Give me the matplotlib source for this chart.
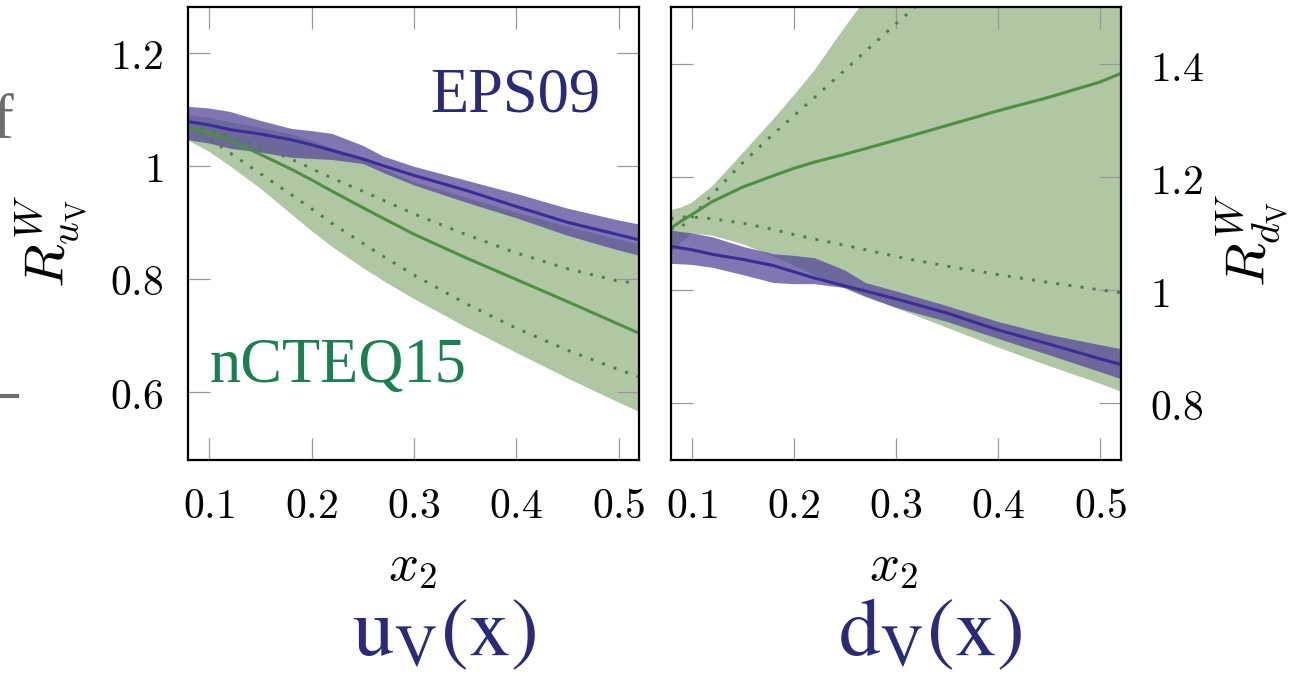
import matplotlib
matplotlib.use("Agg")
import matplotlib.pyplot as plt
from matplotlib.ticker import FixedLocator, FuncFormatter
from matplotlib.lines import Line2D

plt.rcParams['mathtext.fontset'] = 'cm'

# ---------------- data ----------------
# left panel: u_V
x_u = [0.0795, 0.10, 0.12, 0.15, 0.18, 0.20, 0.22, 0.25, 0.27, 0.30, 0.35, 0.40, 0.45, 0.50, 0.52]
eps_u_central = [1.078, 1.072, 1.064, 1.056, 1.046, 1.037, 1.027, 1.012, 1.000, 0.983, 0.957, 0.928, 0.900, 0.878, 0.869]
eps_u_upper   = [1.105, 1.102, 1.096, 1.080, 1.066, 1.062, 1.057, 1.036, 1.017, 0.999, 0.975, 0.951, 0.925, 0.904, 0.897]
eps_u_lower   = [1.046, 1.040, 1.031, 1.024, 1.015, 1.013, 1.011, 1.004, 0.988, 0.966, 0.936, 0.908, 0.877, 0.851, 0.842]
ncteq_u_central = [1.067, 1.058, 1.045, 1.020, 0.994, 0.975, 0.955, 0.926, 0.907, 0.879, 0.838, 0.799, 0.760, 0.720, 0.704]
ncteq_u_upper   = [1.090, 1.085, 1.078, 1.068, 1.056, 1.045, 1.032, 1.012, 0.995, 0.972, 0.945, 0.918, 0.893, 0.870, 0.862]
ncteq_u_lower   = [1.045, 1.025, 1.000, 0.960, 0.915, 0.885, 0.857, 0.820, 0.797, 0.765, 0.716, 0.670, 0.625, 0.582, 0.566]
ncteq_u_dot_hi  = [1.068, 1.062, 1.052, 1.033, 1.012, 0.995, 0.978, 0.955, 0.939, 0.915, 0.879, 0.846, 0.818, 0.796, 0.792]
ncteq_u_dot_lo  = [1.067, 1.048, 1.023, 0.986, 0.949, 0.924, 0.898, 0.863, 0.840, 0.807, 0.757, 0.713, 0.674, 0.640, 0.627]

# right panel: d_V
x_d = [0.0795, 0.09, 0.10, 0.12, 0.15, 0.18, 0.20, 0.22, 0.25, 0.27, 0.30, 0.35, 0.40, 0.45, 0.50, 0.52]
eps_d_central = [1.078, 1.075, 1.072, 1.064, 1.055, 1.044, 1.033, 1.022, 1.008, 0.999, 0.985, 0.960, 0.930, 0.905, 0.879, 0.869]
eps_d_upper   = [1.107, 1.104, 1.102, 1.095, 1.078, 1.065, 1.062, 1.058, 1.036, 1.014, 0.999, 0.973, 0.945, 0.922, 0.904, 0.897]
eps_d_lower   = [1.048, 1.047, 1.046, 1.041, 1.028, 1.014, 1.012, 1.012, 1.005, 0.990, 0.970, 0.945, 0.915, 0.886, 0.856, 0.844]
ncteq_d_central = [1.110, 1.123, 1.134, 1.157, 1.183, 1.203, 1.216, 1.227, 1.241, 1.251, 1.266, 1.292, 1.318, 1.342, 1.369, 1.384]
ncteq_d_upper   = [1.142, 1.147, 1.155, 1.184, 1.243, 1.303, 1.345, 1.389, 1.466, 1.515, 1.590, 1.720, 1.850, 1.970, 2.090, 2.140]
ncteq_d_lower   = [1.066, 1.085, 1.101, 1.097, 1.082, 1.060, 1.044, 1.027, 1.003, 0.988, 0.969, 0.934, 0.899, 0.866, 0.835, 0.821]
ncteq_d_dot_hi  = [1.108, 1.113, 1.128, 1.170, 1.226, 1.277, 1.309, 1.341, 1.390, 1.423, 1.472, 1.550, 1.630, 1.710, 1.790, 1.820]
ncteq_d_dot_lo  = [1.127, 1.130, 1.130, 1.127, 1.119, 1.108, 1.099, 1.091, 1.080, 1.072, 1.060, 1.043, 1.028, 1.014, 1.001, 0.996]

x_ticks = [0.1, 0.2, 0.3, 0.4, 0.5]
y_ticks_u = [0.6, 0.8, 1.0, 1.2]
y_ticks_d = [0.8, 1.0, 1.2, 1.4]

# ---------------- style ----------------
GREEN_BAND = '#b0c7a3'
GREEN_LINE = '#4f8f43'
GREEN_DOT = '#4c7e4c'
PURPLE_BAND = '#554999'
PURPLE_LINE = '#3b2d98'
NAVY_TEXT = '#2b2a78'
GREEN_TEXT = '#1a8050'
TICK_GRAY = '#999999'

W, H = 1309, 674
fig = plt.figure(figsize=(W / 100, H / 100), dpi=100)

def px_rect(x0, x1, ytop, ybot):
    return [x0 / W, 1 - ybot / H, (x1 - x0) / W, (ybot - ytop) / H]

axL = fig.add_axes(px_rect(188.3, 639.3, 7.3, 460))
axR = fig.add_axes(px_rect(670.7, 1121.0, 7.3, 460))

def fmt(v, pos):
    return r'$%g$' % v

def draw(ax, x, ec, eu, el, nc, nu, nl, ndh, ndl):
    ax.fill_between(x, nl, nu, color=GREEN_BAND, lw=0, zorder=1)
    ax.fill_between(x, el, eu, color=PURPLE_BAND, alpha=0.75, lw=0, zorder=2)
    ax.plot(x, ndh, color=GREEN_DOT, lw=2.1, ls=(0, (1, 3.2)), zorder=3)
    ax.plot(x, ndl, color=GREEN_DOT, lw=2.1, ls=(0, (1, 3.2)), zorder=3)
    ax.plot(x, nc, color=GREEN_LINE, lw=2.2, zorder=4)
    ax.plot(x, ec, color=PURPLE_LINE, lw=2.2, zorder=5)

draw(axL, x_u, eps_u_central, eps_u_upper, eps_u_lower,
     ncteq_u_central, ncteq_u_upper, ncteq_u_lower, ncteq_u_dot_hi, ncteq_u_dot_lo)
draw(axR, x_d, eps_d_central, eps_d_upper, eps_d_lower,
     ncteq_d_central, ncteq_d_upper, ncteq_d_lower, ncteq_d_dot_hi, ncteq_d_dot_lo)

axL.set_xlim(0.0795, 0.5202)
axR.set_xlim(0.0795, 0.5202)
axL.set_ylim(0.48, 1.28)
axR.set_ylim(0.70, 1.501)

for ax, yt in ((axL, y_ticks_u), (axR, y_ticks_d)):
    ax.xaxis.set_major_locator(FixedLocator(x_ticks))
    ax.yaxis.set_major_locator(FixedLocator(yt))
    ax.xaxis.set_major_formatter(FuncFormatter(fmt))
    ax.yaxis.set_major_formatter(FuncFormatter(fmt))
    ax.tick_params(which='both', direction='in', length=16, width=0.9,
                   color=TICK_GRAY, labelsize=30, top=True, bottom=True,
                   left=True, right=True)
    ax.tick_params(axis='x', pad=18)
    for s in ax.spines.values():
        s.set_color('black')
        s.set_linewidth(1.6)
        s.set_zorder(10)
    ax.set_facecolor('white')

axL.tick_params(axis='y', labelleft=True, labelright=False, pad=18)
axR.tick_params(axis='y', labelleft=False, labelright=True, pad=21)

# axis labels
fig.text(412 / W, 1 - 565 / H, r'$x_2$', fontsize=38, ha='center', va='center')
fig.text(893 / W, 1 - 565 / H, r'$x_2$', fontsize=38, ha='center', va='center')
fig.text(52 / W, 1 - 241 / H, r'$R^W_{u_{\rm V}}$', fontsize=41, rotation=90,
         ha='center', va='center')
fig.text(1253 / W, 1 - 240 / H, r'$R^W_{d_{\rm V}}$', fontsize=41, rotation=90,
         ha='center', va='center')

# legend-like texts
axL.text(515 / W, 1 - 97 / H, 'EPS09', transform=fig.transFigure, fontsize=45,
         family='Liberation Serif', color=NAVY_TEXT, ha='center', va='center', zorder=20)
axL.text(338 / W, 1 - 367 / H, 'nCTEQ15', transform=fig.transFigure, fontsize=45,
         family='Liberation Serif', color=GREEN_TEXT, ha='center', va='center', zorder=20)

# panel titles
fig.text(444 / W, 1 - 655 / H, r'$\mathrm{u}_\mathrm{V}(\mathrm{x})$', fontsize=60,
         color=NAVY_TEXT, ha='center', va='baseline', math_fontfamily='stix')
fig.text(930 / W, 1 - 655 / H, r'$\mathrm{d}_\mathrm{V}(\mathrm{x})$', fontsize=60,
         color=NAVY_TEXT, ha='center', va='baseline', math_fontfamily='stix')

# cropped slide fragments at the left edge
fig.text(-8 / W, 1 - 138 / H, 'f', fontsize=45, family='Liberation Serif',
         color='#6e6e6e', ha='left', va='baseline')
fig.add_artist(Line2D([0, 17 / W], [1 - 395.5 / H, 1 - 395.5 / H],
                      color='#6e6e6e', lw=3, transform=fig.transFigure))

fig.savefig('out.png', dpi=100)
